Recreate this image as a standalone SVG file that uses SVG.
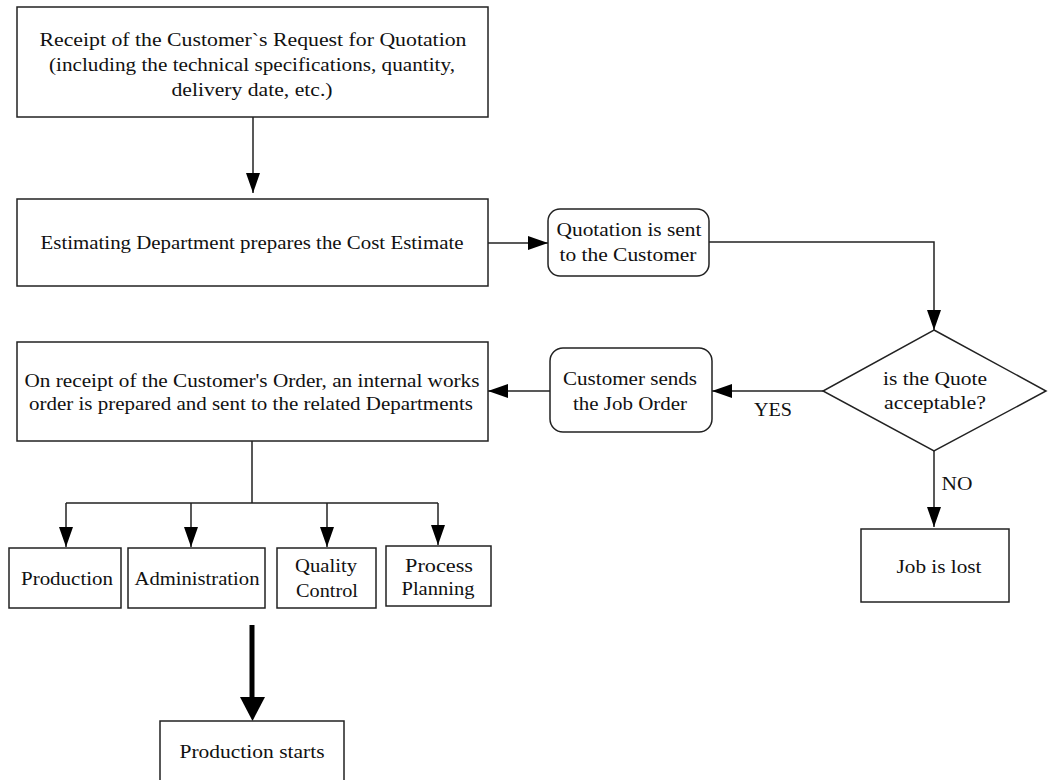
<svg xmlns="http://www.w3.org/2000/svg" width="1048" height="780" viewBox="0 0 1048 780" font-family="'Liberation Serif', 'DejaVu Serif', 'Times New Roman', serif">
  <style>
    .box { fill: #fff; stroke: #222; stroke-width: 1.5; }
    .ln { fill: none; stroke: #222; stroke-width: 1.5; }
    .thick { fill: none; stroke: #000; stroke-width: 5; }
    .t { font-family: "Liberation Serif", "DejaVu Serif", "Times New Roman", serif; font-size: 19px; fill: #111; text-anchor: middle; }
  </style>
  <defs>
    <marker id="arr" markerUnits="userSpaceOnUse" markerWidth="20" markerHeight="14" refX="20" refY="7" orient="auto">
      <path d="M0,0 L20,7 L0,14 z" fill="#000"/>
    </marker>
  </defs>
  <rect width="1048" height="780" fill="#fff"/>

  <g id="connectors">
    <path class="ln" d="M253,117 V193" marker-end="url(#arr)"/>
    <path class="ln" d="M488,243 H548" marker-end="url(#arr)"/>
    <path class="ln" d="M709,242 H934 V330" marker-end="url(#arr)"/>
    <path class="ln" d="M823,391 H712" marker-end="url(#arr)"/>
    <path class="ln" d="M550,391 H488" marker-end="url(#arr)"/>
    <path class="ln" d="M934,451 V527" marker-end="url(#arr)"/>
    <path class="ln" d="M252,441 V503 M66,503 H438"/>
    <path class="ln" d="M66,503 V547" marker-end="url(#arr)"/>
    <path class="ln" d="M191,503 V547" marker-end="url(#arr)"/>
    <path class="ln" d="M327,503 V547" marker-end="url(#arr)"/>
    <path class="ln" d="M438,503 V545" marker-end="url(#arr)"/>
    <path class="thick" d="M252,625 V700"/>
    <path d="M240,697 L265,697 L252.5,721 z" fill="#000"/>
    <text class="t" x="773" y="416" textLength="38" lengthAdjust="spacingAndGlyphs">YES</text>
    <text class="t" x="957" y="490" textLength="31" lengthAdjust="spacingAndGlyphs">NO</text>
  </g>

  <g id="request">
    <rect class="box" x="17" y="7" width="471" height="110"/>
    <text class="t" x="253" y="46" textLength="427" lengthAdjust="spacingAndGlyphs">Receipt of the Customer`s Request for Quotation</text>
    <text class="t" x="252" y="71" textLength="406" lengthAdjust="spacingAndGlyphs">(including the technical specifications, quantity,</text>
    <text class="t" x="252" y="96" textLength="161" lengthAdjust="spacingAndGlyphs">delivery date, etc.)</text>
  </g>

  <g id="estimate">
    <rect class="box" x="17" y="199" width="471" height="87"/>
    <text class="t" x="252" y="249" textLength="423" lengthAdjust="spacingAndGlyphs">Estimating Department prepares the Cost Estimate</text>
  </g>

  <g id="quotation-sent">
    <rect class="box" x="548" y="209" width="161" height="67" rx="12" ry="12"/>
    <text class="t" x="629" y="236" textLength="145" lengthAdjust="spacingAndGlyphs">Quotation is sent</text>
    <text class="t" x="628" y="261" textLength="137" lengthAdjust="spacingAndGlyphs">to the Customer</text>
  </g>

  <g id="decision">
    <polygon class="box" points="934,330 1046,391 934,451 823,391"/>
    <text class="t" x="935" y="385" textLength="104" lengthAdjust="spacingAndGlyphs">is the Quote</text>
    <text class="t" x="935" y="409" textLength="102" lengthAdjust="spacingAndGlyphs">acceptable?</text>
  </g>

  <g id="job-order">
    <rect class="box" x="550" y="348" width="162" height="84" rx="13" ry="13"/>
    <text class="t" x="630" y="385" textLength="134" lengthAdjust="spacingAndGlyphs">Customer sends</text>
    <text class="t" x="630" y="410" textLength="114" lengthAdjust="spacingAndGlyphs">the Job Order</text>
  </g>

  <g id="works-order">
    <rect class="box" x="17" y="342" width="471" height="99"/>
    <text class="t" x="252" y="387" textLength="455" lengthAdjust="spacingAndGlyphs">On receipt of the Customer's Order, an internal works</text>
    <text class="t" x="251" y="410" textLength="444" lengthAdjust="spacingAndGlyphs">order is prepared and sent to the related Departments</text>
  </g>

  <g id="job-lost">
    <rect class="box" x="861" y="529" width="148" height="73"/>
    <text class="t" x="939" y="573" textLength="85" lengthAdjust="spacingAndGlyphs">Job is lost</text>
  </g>

  <g id="production">
    <rect class="box" x="9" y="548" width="112" height="60"/>
    <text class="t" x="67" y="585" textLength="92" lengthAdjust="spacingAndGlyphs">Production</text>
  </g>

  <g id="administration">
    <rect class="box" x="128" y="548" width="137" height="60"/>
    <text class="t" x="197" y="585" textLength="125" lengthAdjust="spacingAndGlyphs">Administration</text>
  </g>

  <g id="quality-control">
    <rect class="box" x="277" y="548" width="99" height="60"/>
    <text class="t" x="326" y="572" textLength="62" lengthAdjust="spacingAndGlyphs">Quality</text>
    <text class="t" x="327" y="597" textLength="62" lengthAdjust="spacingAndGlyphs">Control</text>
  </g>

  <g id="process-planning">
    <rect class="box" x="386" y="546" width="105" height="60"/>
    <text class="t" x="439" y="572" textLength="68" lengthAdjust="spacingAndGlyphs">Process</text>
    <text class="t" x="438" y="595" textLength="73" lengthAdjust="spacingAndGlyphs">Planning</text>
  </g>

  <g id="production-starts">
    <rect class="box" x="160" y="721" width="184" height="70"/>
    <text class="t" x="252" y="758" textLength="145" lengthAdjust="spacingAndGlyphs">Production starts</text>
  </g>
</svg>
